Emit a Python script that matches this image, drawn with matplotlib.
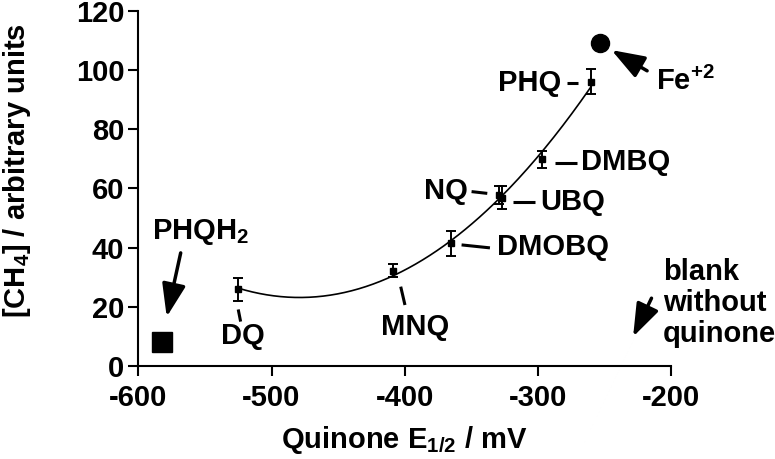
import matplotlib
matplotlib.use("Agg")
import matplotlib.pyplot as plt
import numpy as np

plt.rcParams['font.family'] = ['Liberation Sans', 'DejaVu Sans']
plt.rcParams['font.weight'] = 'bold'
plt.rcParams['mathtext.fontset'] = 'custom'
plt.rcParams['mathtext.rm'] = 'Liberation Sans:bold'
plt.rcParams['mathtext.bf'] = 'Liberation Sans:bold'
plt.rcParams['mathtext.default'] = 'rm'
plt.rcParams['axes.unicode_minus'] = False

# quinone series
names = ['DQ', 'MNQ', 'DMOBQ', 'NQ', 'UBQ', 'DMBQ', 'PHQ']
e_half = [-525, -409, -365, -329, -327, -297, -260]
ch4 = [25.9, 32.2, 41.4, 57.8, 56.8, 69.8, 96.0]
ch4_err = [3.8, 2.3, 4.1, 3.0, 3.9, 2.9, 4.3]

# separate reference points
fe_x, fe_y = -253.5, 109.0
phqh2_x, phqh2_y = -582.5, 8.2
blank_x, blank_y = -228.5, 9.9

xticks = [-600, -500, -400, -300, -200]
yticks = [0, 20, 40, 60, 80, 100, 120]

FS = 21

fig = plt.figure(figsize=(7.75, 4.59), dpi=100)
ax = fig.add_axes([0.1785, 0.2026, 0.6874, 0.7741])

# quadratic fit through the quinone points
coef = np.polyfit(e_half, ch4, 2)
xs = np.linspace(min(e_half), max(e_half), 200)
ax.plot(xs, np.polyval(coef, xs), color='black', lw=1.2)

ax.errorbar(e_half, ch4, yerr=ch4_err, fmt='s', color='black', ms=5,
            elinewidth=1.4, capsize=3.5, capthick=1.4)
ax.plot([fe_x], [fe_y], 'o', color='black', ms=13)
ax.plot([phqh2_x], [phqh2_y], 's', color='black', ms=14)

ax.set_xlim(-600, -200)
ax.set_ylim(0, 120)
ax.set_xticks(xticks)
ax.set_yticks(yticks)
for s in ['top', 'right']:
    ax.spines[s].set_visible(False)
for s in ['left', 'bottom']:
    ax.spines[s].set_linewidth(1.5)
ax.tick_params(direction='out', length=7, width=1.5, labelsize=FS, pad=3)
ax.tick_params(axis='x', pad=6)

fig.text(404.5 / 775, 1 - 440 / 459, 'Quinone E$_{1/2}$ / mV', fontsize=FS,
         ha='center', va='center')
fig.text(17 / 775, 1 - 171 / 459, '[CH$_4$] / arbitrary units', fontsize=FS,
         rotation=90, ha='center', va='center')

# label ticks next to the points
lk = dict(color='black', lw=2.2, solid_capstyle='butt')
ax.plot([-525, -523.2], [19.1, 15.0], **lk)
ax.text(-521.6, 10.1, 'DQ', fontsize=FS, ha='center', va='center')
ax.plot([-403, -399.8], [26.8, 20.6], **lk)
ax.text(-392, 13.2, 'MNQ', fontsize=FS, ha='center', va='center')
ax.plot([-357.3, -336], [40.9, 39.9], **lk)
ax.text(-331, 40.3, 'DMOBQ', fontsize=FS, ha='left', va='center')
ax.plot([-349.8, -338], [58.9, 58.3], **lk)
ax.text(-369, 59.1, 'NQ', fontsize=FS, ha='center', va='center')
ax.plot([-318.6, -302.3], [55.5, 55.5], **lk)
ax.text(-298.6, 55.5, 'UBQ', fontsize=FS, ha='left', va='center')
ax.plot([-287.3, -271], [68.5, 68.5], **lk)
ax.text(-268, 69, 'DMBQ', fontsize=FS, ha='left', va='center')
ax.plot([-278.5, -269.8], [95.5, 95.5], **lk)
ax.text(-282.3, 95.5, 'PHQ', fontsize=FS, ha='right', va='center')

arr = dict(arrowstyle='-|>,head_length=0.67,head_width=0.24', color='black',
           lw=2.5, mutation_scale=30, shrinkA=0, shrinkB=0)
ax.annotate('', xy=(-244.7, 106.7), xytext=(-218, 99.7), arrowprops=arr,
            annotation_clip=False)
ax.text(-211, 96.1, 'Fe$^{+2}$', fontsize=FS, ha='left', va='center',
        clip_on=False)
ax.annotate('', xy=(-578.7, 16.6), xytext=(-568.2, 38.2), arrowprops=arr)
ax.text(-590, 43, 'PHQH$_2$', fontsize=FS, ha='left', va='baseline')
ax.annotate('', xy=(blank_x, blank_y), xytext=(-214.7, 22.9), arrowprops=arr,
            annotation_clip=False)
ax.text(-206, 21.3, 'blank\nwithout\nquinone', fontsize=FS, ha='left',
        va='center', linespacing=1.15, clip_on=False)

fig.savefig('out.png', dpi=100)
